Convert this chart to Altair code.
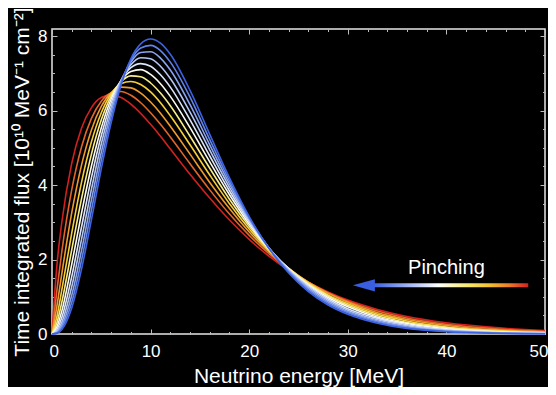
import altair as alt
import pandas as pd

# Neutrino energy grid [MeV]
energy = [0, 0.5, 1, 2, 3, 4, 5, 6, 7, 8, 9, 10, 11, 12, 14, 16, 18, 20, 22, 24,
          26, 28, 30, 33, 36, 40, 45, 50]

# Time integrated flux [1e10 MeV^-1 cm^-2], from least pinched (red) to most pinched (blue)
flux_01 = [0, 1.85, 3.01, 4.58, 5.53, 6.08, 6.35, 6.42, 6.35, 6.17, 5.92, 5.63, 5.31, 4.97, 4.29, 3.65, 3.06, 2.54, 2.09, 1.71, 1.39, 1.13, 0.91, 0.66, 0.47, 0.30, 0.17, 0.09]
flux_02 = [0, 1.18, 2.22, 3.87, 5.03, 5.79, 6.25, 6.47, 6.51, 6.41, 6.21, 5.94, 5.63, 5.29, 4.57, 3.87, 3.22, 2.65, 2.16, 1.74, 1.39, 1.11, 0.88, 0.62, 0.43, 0.26, 0.14, 0.07]
flux_03 = [0, 0.75, 1.63, 3.25, 4.54, 5.48, 6.11, 6.48, 6.63, 6.61, 6.47, 6.23, 5.93, 5.58, 4.83, 4.07, 3.37, 2.74, 2.21, 1.76, 1.39, 1.09, 0.85, 0.57, 0.39, 0.23, 0.11, 0.055]
flux_04 = [0, 0.47, 1.19, 2.71, 4.08, 5.16, 5.94, 6.45, 6.72, 6.78, 6.70, 6.50, 6.21, 5.86, 5.08, 4.27, 3.50, 2.82, 2.24, 1.76, 1.37, 1.05, 0.81, 0.53, 0.35, 0.19, 0.09, 0.04]
flux_05 = [0, 0.30, 0.86, 2.26, 3.64, 4.83, 5.75, 6.39, 6.77, 6.93, 6.91, 6.74, 6.47, 6.13, 5.31, 4.45, 3.62, 2.89, 2.27, 1.76, 1.35, 1.02, 0.77, 0.49, 0.31, 0.17, 0.074, 0.032]
flux_06 = [0, 0.19, 0.62, 1.87, 3.25, 4.51, 5.54, 6.31, 6.80, 7.05, 7.10, 6.97, 6.72, 6.38, 5.54, 4.62, 3.74, 2.95, 2.29, 1.75, 1.32, 0.98, 0.73, 0.45, 0.28, 0.14, 0.06, 0.025]
flux_07 = [0, 0.12, 0.45, 1.54, 2.88, 4.20, 5.33, 6.21, 6.81, 7.15, 7.26, 7.19, 6.96, 6.63, 5.75, 4.78, 3.84, 3.01, 2.31, 1.74, 1.29, 0.94, 0.68, 0.42, 0.25, 0.12, 0.048, 0.019]
flux_08 = [0, 0.07, 0.32, 1.27, 2.55, 3.89, 5.11, 6.09, 6.80, 7.23, 7.42, 7.39, 7.19, 6.86, 5.96, 4.94, 3.94, 3.05, 2.31, 1.72, 1.26, 0.90, 0.64, 0.38, 0.22, 0.10, 0.039, 0.014]
flux_09 = [0, 0.045, 0.23, 1.04, 2.25, 3.60, 4.88, 5.97, 6.78, 7.30, 7.56, 7.58, 7.41, 7.09, 6.16, 5.08, 4.03, 3.09, 2.31, 1.70, 1.22, 0.86, 0.60, 0.35, 0.19, 0.087, 0.031, 0.011]
flux_10 = [0, 0.028, 0.17, 0.85, 1.99, 3.33, 4.66, 5.83, 6.74, 7.35, 7.68, 7.75, 7.61, 7.30, 6.36, 5.22, 4.11, 3.12, 2.31, 1.67, 1.18, 0.82, 0.57, 0.32, 0.17, 0.074, 0.025, 0.008]
flux_11 = [0, 0.017, 0.12, 0.70, 1.75, 3.07, 4.44, 5.68, 6.68, 7.39, 7.79, 7.92, 7.81, 7.51, 6.54, 5.36, 4.19, 3.15, 2.30, 1.64, 1.14, 0.78, 0.53, 0.29, 0.15, 0.062, 0.020, 0.006]

curve_colors = ["#d42020", "#e2662a", "#f09a2e", "#f5cf38", "#f8ec8a", "#fbfbf2",
                "#dde5fa", "#b4c6f5", "#8aa4f0", "#6284ea", "#3c62e0"]

x_major = [0, 10, 20, 30, 40, 50]
x_minor = [0, 2, 4, 6, 8, 10, 12, 14, 16, 18, 20, 22, 24, 26, 28, 30, 32, 34, 36, 38, 40, 42, 44, 46, 48, 50]
y_major = [0, 2, 4, 6, 8]
y_minor = [0, 0.5, 1, 1.5, 2, 2.5, 3, 3.5, 4, 4.5, 5, 5.5, 6, 6.5, 7, 7.5, 8]

# annotation (arrow + label)
arrow_shaft = {"x0": [32.55], "x1": [48.3], "y0": [1.255], "y1": [1.36]}
arrow_head = {"x": [31.63], "y": [1.307]}
label_pos = {"x": [40.0], "y": [1.77], "t": ["Pinching"]}

series = [flux_01, flux_02, flux_03, flux_04, flux_05, flux_06, flux_07, flux_08,
          flux_09, flux_10, flux_11]
rows = []
for i, vals in enumerate(series):
    for e, v in zip(energy, vals):
        rows.append({"E": e, "F": v, "s": i})
df = pd.DataFrame(rows)

W, H = 493, 305
FONT = "Liberation Sans"
xs = alt.Scale(domain=[0, 50], nice=False, zero=False)
ys = alt.Scale(domain=[0, 8.19], nice=False, zero=False)

lines = alt.Chart(df).mark_line(strokeWidth=1.6, interpolate="monotone").encode(
    x=alt.X("E:Q", scale=xs, axis=alt.Axis(
        title="Neutrino energy [MeV]", values=x_major, ticks=False, domain=False,
        grid=False, labelPadding=9, titlePadding=6, labelFlush=True,
        labelFlushOffset=3)),
    y=alt.Y("F:Q", scale=ys, axis=alt.Axis(
        title="Time integrated flux [10¹⁰ MeV⁻¹ cm⁻²]", values=y_major, ticks=False,
        domain=False, grid=False, labelPadding=5, titlePadding=5)),
    color=alt.Color("s:N", scale=alt.Scale(domain=list(range(11)), range=curve_colors),
                    legend=None),
)


def tick_layer(xorient, yorient, xvals, yvals, size):
    return alt.Chart(df).mark_point(opacity=0, size=1).encode(
        x=alt.X("E:Q", scale=xs, axis=alt.Axis(
            orient=xorient, offset=-H, values=xvals, tickSize=size, labels=False,
            domain=False, grid=False, title=None)),
        y=alt.Y("F:Q", scale=ys, axis=alt.Axis(
            orient=yorient, offset=-W, values=yvals, tickSize=size, labels=False,
            domain=False, grid=False, title=None)),
    )


ticks_a = tick_layer("top", "right", x_major, y_major, 5)
ticks_b = tick_layer("top", "right", x_minor, y_minor, 2.5)
ticks_c = tick_layer("bottom", "left", x_major, y_major, 5)
ticks_d = tick_layer("bottom", "left", x_minor, y_minor, 2.5)

grad = alt.LinearGradient(
    gradient="linear",
    stops=[
        alt.GradientStop(color="#3a5ee0", offset=0),
        alt.GradientStop(color="#9cb2f2", offset=0.22),
        alt.GradientStop(color="#ffffff", offset=0.42),
        alt.GradientStop(color="#f6e76a", offset=0.62),
        alt.GradientStop(color="#f3c030", offset=0.75),
        alt.GradientStop(color="#ec7a2a", offset=0.88),
        alt.GradientStop(color="#d42020", offset=1),
    ],
    x1=0, x2=1, y1=0, y2=0,
)

shaft = alt.Chart(pd.DataFrame(arrow_shaft)).mark_rect(color=grad, strokeWidth=0).encode(
    x=alt.X("x0:Q", scale=xs, axis=None), x2="x1:Q",
    y=alt.Y("y0:Q", scale=ys, axis=None), y2="y1:Q",
)

head = alt.Chart(pd.DataFrame(arrow_head)).mark_point(
    shape="M 1 -0.56 L -1 0 L 1 0.56 Z", size=484, filled=True, opacity=1,
    color="#3a5ee0", strokeWidth=0,
).encode(
    x=alt.X("x:Q", scale=xs, axis=None),
    y=alt.Y("y:Q", scale=ys, axis=None),
)

label = alt.Chart(pd.DataFrame(label_pos)).mark_text(
    color="white", fontSize=20, font=FONT, align="center", baseline="middle",
).encode(
    x=alt.X("x:Q", scale=xs, axis=None),
    y=alt.Y("y:Q", scale=ys, axis=None),
    text="t:N",
)

chart = alt.layer(
    ticks_a, ticks_b, ticks_c, ticks_d, lines, shaft, head, label
).properties(
    width=W, height=H,
    padding={"left": 44, "top": 21, "right": 3, "bottom": 53},
    autosize=alt.AutoSizeParams(type="none"),
    background="black",
).configure_view(
    stroke="#e6e6e6", strokeWidth=1.5, fill="black",
).configure_axis(
    labelColor="white", titleColor="white", labelFont=FONT, titleFont=FONT,
    labelFontSize=17, titleFontSize=21, titleFontWeight="normal",
    tickColor="#bdbdbd", tickWidth=1,
)

chart.save("out.html", embed_options={"renderer": "svg", "actions": False})
